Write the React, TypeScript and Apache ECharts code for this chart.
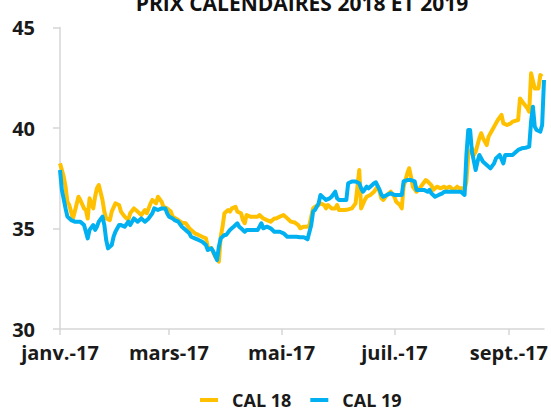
import React, { useEffect, useRef } from "react";
import * as echarts from "echarts";

const chartTitle = "PRIX CALENDAIRES 2018 ET 2019";
const seriesNames = ["CAL 18", "CAL 19"];
const seriesColors = ["#FFC000", "#00B0F0"];

// x values are days since 1 Jan 2017
const xMaxDay = 262;
const monthTickDays = [0, 59, 120, 181, 243];
const monthTickLabels = ["janv.-17", "mars-17", "mai-17", "juil.-17", "sept.-17"];

const yMin = 30;
const yMax = 45;
const yStep = 5;

const cal18Days = [
  0, 2, 3, 4, 5, 7, 8, 10, 11, 13, 14, 15, 16, 18, 19, 20, 21, 23, 24, 25, 27, 28, 30, 32, 33, 35, 37, 38, 40, 42,
  44, 46, 47, 49, 50, 52, 53, 55, 56, 58, 60, 61, 64, 66, 68, 70, 71, 73, 75, 77, 79, 80, 82, 84, 86, 87, 88, 89,
  91, 92, 93, 95, 96, 98, 99, 100, 101, 103, 105, 107, 108, 110, 112, 114, 116, 117, 119, 121, 122, 124, 125, 127,
  129, 130, 132, 134, 135, 136, 137, 138, 140, 141, 143, 144, 145, 147, 149, 150, 151, 153, 154, 156, 158, 160,
  161, 162, 163, 165, 166, 168, 170, 172, 173, 174, 175, 177, 179, 181, 182, 184, 185, 186, 188, 189, 190, 191,
  193, 194, 196, 198, 199, 201, 202, 204, 206, 208, 209, 211, 213, 215, 216, 218, 219, 220, 221, 223, 224, 225,
  227, 228, 229, 231, 232, 234, 235, 237, 239, 240, 242, 244, 245, 248, 249, 251, 253, 254, 255, 257, 258, 259,
  260, 261,
];
const cal18Values = [
  38.24, 37.58, 37.08, 36.33, 36.17, 35.5, 35.84, 36.58, 36.42, 36.0, 35.92, 35.5, 36.5, 36.0, 36.58, 37.0, 37.16,
  36.42, 35.84, 35.5, 35.42, 35.84, 36.25, 36.17, 35.84, 35.59, 35.42, 35.76, 36.0, 35.84,
  35.67, 35.92, 35.76, 36.25, 36.42, 36.25, 36.58, 36.33, 36.08, 36.0, 35.84, 35.59, 35.42, 35.29, 35.26, 35.01,
  34.93, 34.76, 34.68, 34.59, 34.51, 34.1, 34.01, 33.6, 33.35, 34.59, 35.09, 35.76,
  35.92, 35.84, 36.0, 36.08, 35.84, 35.76, 35.42, 35.26, 35.67, 35.59, 35.59, 35.59, 35.67, 35.5, 35.42, 35.34,
  35.5, 35.5, 35.59, 35.67, 35.59, 35.42, 35.34, 35.3,
  35.17, 35.01, 35.09, 35.09, 35.17, 35.59, 36.0, 36.08, 36.17, 36.25, 36.17, 36.0, 36.17, 36.0, 36.0, 36.17,
  35.92, 35.92, 35.92, 35.95, 36.0, 36.25,
  37.08, 37.91, 36.0, 36.42, 36.58, 36.67, 36.83, 37.1, 36.83, 36.5, 36.42, 36.67, 36.83, 36.58, 36.33, 36.17,
  36.0, 37.08, 37.75, 38.0, 37.58, 37.08,
  36.83, 36.92, 37.16, 37.41, 37.34, 37.16, 36.92, 37.08, 37.0, 37.08, 37.0, 37.08, 36.92, 37.08, 37.0, 37.0,
  36.92, 37.34, 38.66, 38.99, 38.66, 38.82,
  39.49, 39.74, 39.49, 39.15, 39.57, 39.9, 40.07, 40.4, 40.65, 40.23, 40.15, 40.23, 40.32, 40.4, 41.47, 41.22,
  40.98, 40.81, 42.72, 41.97, 41.97, 41.97,
  42.64, 42.56,
];

const cal19Days = [
  0, 1, 3, 4, 6, 8, 10, 11, 13, 14, 15, 16, 18, 19, 20, 21, 23, 24, 25, 26, 28, 29, 30, 32, 33, 35, 37, 38, 40, 41,
  42, 44, 46, 48, 50, 51, 53, 55, 57, 58, 59, 61, 62, 64, 66, 68, 70, 71, 73, 75, 77, 79, 80, 82, 83, 85, 86, 87,
  89, 90, 92, 93, 94, 96, 97, 98, 100, 101, 103, 105, 107, 108, 109, 110, 112, 114, 116, 117, 119, 121, 123, 125,
  128, 130, 132, 133, 134, 136, 137, 138, 140, 141, 143, 144, 146, 147, 149, 150, 151, 153, 155, 156, 158, 160,
  162, 163, 164, 166, 167, 168, 170, 171, 173, 174, 175, 177, 179, 181, 182, 185, 186, 188, 190, 192, 193, 195,
  197, 199, 200, 201, 203, 205, 207, 208, 210, 212, 215, 217, 219, 220, 221, 222, 223, 225, 226, 227, 229, 231,
  233, 235, 236, 238, 240, 241, 243, 245, 246, 248, 250, 252, 254, 255, 256, 257, 258, 260, 261, 262,
];
const cal19Values = [
  37.91, 36.92, 36.0, 35.59, 35.42, 35.34, 35.34, 35.34, 35.17, 34.84, 34.51, 34.93, 35.17, 34.93, 35.09, 35.34,
  35.59, 35.17, 34.43, 34.01, 34.18, 34.59, 34.84, 35.17, 35.17, 35.09, 35.34, 35.17, 35.5, 35.42,
  35.34, 35.5, 35.34, 35.5, 35.76, 36.0, 35.92, 36.0, 36.0, 35.76, 35.59, 35.5, 35.42, 35.34, 35.09, 34.93, 34.76,
  34.59, 34.51, 34.43, 34.34, 34.18, 33.93, 34.01, 33.85, 33.43, 34.1, 34.51,
  34.68, 34.68, 34.93, 35.01, 35.09, 35.26, 35.09, 35.01, 34.84, 34.93, 34.93, 34.93, 34.93, 35.09, 35.26, 35.01,
  35.09, 35.01, 34.84, 34.84, 34.84, 34.76, 34.59, 34.59,
  34.59, 34.56, 34.56, 34.51, 34.46, 35.17, 35.84, 35.92, 36.25, 36.67, 36.5, 36.42, 36.5, 36.58, 36.83, 36.5,
  36.42, 36.42, 36.42, 37.25, 37.34, 37.34,
  37.25, 37.0, 36.83, 37.08, 37.0, 37.08, 37.25, 37.3, 36.92, 36.67, 36.58, 36.67, 36.75, 36.67, 36.67, 36.67,
  37.34, 37.41, 37.41, 37.34, 36.92, 36.92,
  36.92, 36.83, 36.92, 36.75, 36.58, 36.67, 36.75, 36.83, 36.83, 36.83, 36.83, 36.83, 36.67, 38.66, 39.9, 39.9,
  38.82, 37.91, 38.32, 38.66, 38.32, 38.16,
  37.99, 38.24, 38.49, 38.66, 38.24, 38.66, 38.66, 38.66, 38.74, 38.91, 38.99, 39.02, 39.07, 40.32, 41.06, 40.07,
  39.9, 39.82, 40.15, 42.39,
];

const FONT = "'Open Sans', Lato, sans-serif";

export default function App() {
  const ref = useRef<HTMLDivElement>(null);

  useEffect(() => {
    document.body.style.margin = "0";
    if (!ref.current) return;
    const chart = echarts.init(ref.current, null, { renderer: "svg" });
    const axisColor = "#D6D6D6";
    chart.setOption({
      animation: false,
      backgroundColor: "#ffffff",
      graphic: [
        {
          type: "text",
          x: 302,
          y: 13,
          style: {
            text: chartTitle,
            align: "center",
            verticalAlign: "bottom",
            fontFamily: FONT,
            fontSize: 21,
            fontWeight: "bold",
            fill: "#111",
          },
        },
      ],
      grid: { left: 60, right: 7, top: 27.5, bottom: 79, containLabel: false },
      legend: {
        left: 200,
        top: 391,
        padding: 0,
        icon: "rect",
        itemWidth: 18,
        itemHeight: 4,
        itemGap: 19,
        data: seriesNames,
        textStyle: {
          fontFamily: FONT,
          fontSize: 18,
          lineHeight: 16,
          fontWeight: "bold",
          color: "#1a1a1a",
          padding: [0, 0, 0, 9],
        },
      },
      xAxis: {
        type: "value",
        min: 0,
        max: xMaxDay,
        splitLine: { show: false },
        axisLine: { show: true, lineStyle: { color: axisColor, width: 1.5 } },
        axisTick: {
          show: true,
          length: 6,
          customValues: monthTickDays,
          lineStyle: { color: axisColor, width: 1.5 },
        },
        axisLabel: {
          customValues: monthTickDays,
          margin: 13,
          fontFamily: FONT,
          fontSize: 20,
          fontWeight: "bold",
          color: "#1a1a1a",
          formatter: (v: number) => {
            const i = monthTickDays.indexOf(Math.round(v));
            return i >= 0 ? monthTickLabels[i] : "";
          },
        },
      },
      yAxis: {
        type: "value",
        min: yMin,
        max: yMax,
        interval: yStep,
        splitLine: { show: false },
        axisLine: { show: true, lineStyle: { color: axisColor, width: 1.5 } },
        axisTick: { show: true, length: 7, lineStyle: { color: axisColor, width: 1.5 } },
        axisLabel: {
          margin: 25,
          fontFamily: FONT,
          fontSize: 20,
          fontWeight: "bold",
          color: "#1a1a1a",
        },
      },
      series: [
        {
          name: seriesNames[0],
          type: "line",
          showSymbol: false,
          data: cal18Days.map((d, i) => [d, cal18Values[i]]),
          itemStyle: { color: seriesColors[0] },
          lineStyle: { color: seriesColors[0], width: 4, join: "round" },
        },
        {
          name: seriesNames[1],
          type: "line",
          showSymbol: false,
          data: cal19Days.map((d, i) => [d, cal19Values[i]]),
          itemStyle: { color: seriesColors[1] },
          lineStyle: { color: seriesColors[1], width: 4, join: "round" },
        },
      ],
    });
    return () => chart.dispose();
  }, []);

  return <div ref={ref} style={{ width: 551, height: 408 }} />;
}
